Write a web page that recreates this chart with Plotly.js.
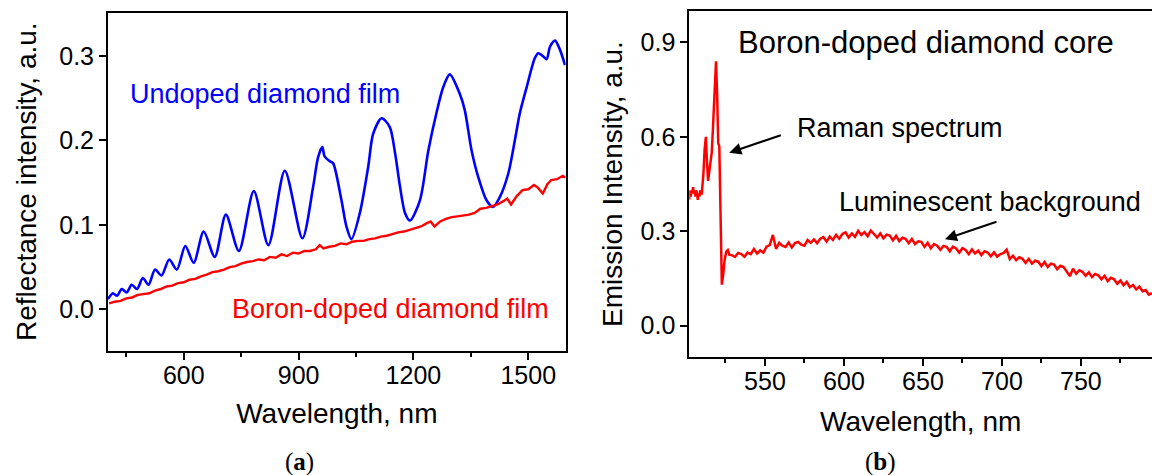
<!DOCTYPE html>
<html><head><meta charset="utf-8">
<script src="https://cdn.plot.ly/plotly-3.0.1.min.js"></script>
<style>html,body{margin:0;padding:0;background:#fff;}#chart{width:1152px;height:475px;}</style>
</head><body><div id="chart"></div>
<script>
// Panel (a): reflectance spectra
const undopedWl = [402,408,415,426,438,451,464,478,493,508,525,542,562,582,604,626,652,681,710,744,783,821,864,910,938,951,962,968,982,990,1012,1025,1038,1060,1082,1095,1117,1138,1152,1165,1178,1191,1217,1239,1260,1278,1295,1321,1334,1352,1369,1391,1408,1426,1448,1465,1478,1496,1517,1526,1537,1548,1557,1570,1583,1596];
const undopedR  = [0.012,0.016,0.019,0.016,0.024,0.020,0.029,0.024,0.037,0.029,0.047,0.040,0.059,0.047,0.075,0.055,0.092,0.062,0.112,0.069,0.140,0.076,0.164,0.084,0.145,0.180,0.192,0.181,0.175,0.173,0.129,0.098,0.083,0.114,0.169,0.208,0.226,0.216,0.185,0.145,0.114,0.105,0.129,0.188,0.232,0.263,0.278,0.255,0.236,0.188,0.157,0.129,0.121,0.133,0.161,0.200,0.232,0.263,0.297,0.303,0.300,0.296,0.311,0.318,0.307,0.289];

const borondWl = [405,420,435,450,465,480,495,510,525,540,555,570,585,600,615,630,645,660,675,690,705,720,735,750,765,780,795,810,825,840,855,870,885,900,915,930,945,955,965,980,995,1010,1025,1040,1055,1070,1085,1100,1115,1130,1145,1160,1175,1190,1205,1220,1235,1245,1255,1270,1285,1300,1315,1330,1345,1360,1375,1390,1405,1420,1435,1445,1455,1470,1485,1500,1515,1525,1538,1550,1560,1575,1590,1597];
const borondR  = [0.007,0.009,0.010,0.013,0.014,0.017,0.018,0.019,0.022,0.024,0.027,0.028,0.031,0.032,0.035,0.036,0.039,0.041,0.044,0.045,0.047,0.050,0.051,0.054,0.056,0.057,0.059,0.058,0.062,0.061,0.065,0.063,0.067,0.066,0.069,0.069,0.071,0.076,0.072,0.074,0.075,0.078,0.077,0.080,0.081,0.081,0.083,0.084,0.086,0.087,0.089,0.091,0.092,0.094,0.096,0.098,0.102,0.104,0.098,0.104,0.107,0.109,0.110,0.111,0.112,0.114,0.119,0.120,0.122,0.124,0.128,0.131,0.124,0.134,0.141,0.142,0.147,0.144,0.137,0.148,0.153,0.154,0.158,0.156];

// Panel (b): emission spectrum of boron-doped diamond core
const coreWl = [502,502.5,503,503.5,504,504.5,505,505.5,506,506.5,507,507.5,508,508.5,509,509.5,510,511,511.8,512.6,513.3,514,514.5,515.5,516.3,517,518,519,519.7,520.4,521.1,521.6,522,522.7,523.5,524.5,525.5,526.5,527.5,
529,531,533,535,537,539,541,543,545,547,549,551,553,555,557,559,561,563,565,567,569,571,573,575,577,579,581,583,585,587,589,591,593,595,597,599,601,603,605,607,609,611,613,615,617,619,621,623,625,627,629,631,633,635,637,639,641,643,645,647,649,651,653,655,657,659,661,663,665,667,669,671,673,675,677,679,681,683,685,687,689,691,693,695,697,699,701,703,705,707,709,711,713,715,717,719,721,723,725,727,729,731,733,735,737,739,741,743,745,747,749,751,753,755,757,759,761,763,765,767,769,771,773,775,777,779,781,783,785,787,789,791,793,795];
const coreI = [0.40,0.43,0.41,0.43,0.42,0.44,0.42,0.43,0.41,0.43,0.42,0.40,0.42,0.41,0.43,0.42,0.42,0.48,0.56,0.60,0.52,0.46,0.48,0.52,0.55,0.62,0.75,0.84,0.74,0.58,0.57,0.45,0.25,0.13,0.16,0.21,0.235,0.24,0.225,
0.224,0.218,0.231,0.227,0.219,0.232,0.227,0.243,0.229,0.239,0.232,0.251,0.256,0.288,0.244,0.263,0.254,0.250,0.264,0.248,0.262,0.266,0.257,0.254,0.272,0.263,0.274,0.262,0.276,0.281,0.267,0.283,0.272,0.288,0.276,0.291,0.296,0.280,0.293,0.282,0.301,0.288,0.297,0.284,0.302,0.291,0.280,0.293,0.277,0.289,0.286,0.271,0.285,0.268,0.279,0.276,0.262,0.275,0.259,0.268,0.266,0.250,0.263,0.246,0.259,0.254,0.241,0.253,0.250,0.236,0.251,0.245,0.232,0.246,0.240,0.227,0.242,0.229,0.238,0.224,0.236,0.232,0.220,0.233,0.219,0.227,0.230,0.241,0.211,0.222,0.208,0.217,0.212,0.199,0.212,0.197,0.206,0.203,0.189,0.202,0.186,0.197,0.194,0.179,0.190,0.186,0.172,0.157,0.181,0.165,0.176,0.171,0.158,0.169,0.154,0.164,0.160,0.147,0.158,0.141,0.152,0.147,0.133,0.143,0.128,0.139,0.122,0.129,0.115,0.124,0.109,0.113,0.098,0.103];

const FONT = 'Liberation Sans, Arial, Helvetica, sans-serif';
const SERIF = 'Liberation Serif, Times New Roman, serif';

const traces = [
  {x: undopedWl, y: undopedR, type: 'scatter', mode: 'lines', name: 'Undoped diamond film',
   line: {color: '#0000ff', width: 2.6, shape: 'spline', smoothing: 0.8}, xaxis: 'x', yaxis: 'y'},
  {x: borondWl, y: borondR, type: 'scatter', mode: 'lines', name: 'Boron-doped diamond film',
   line: {color: '#ff0000', width: 2.4}, xaxis: 'x', yaxis: 'y'},
  {x: coreWl, y: coreI, type: 'scatter', mode: 'lines', name: 'Boron-doped diamond core',
   line: {color: '#ff0000', width: 2.5}, xaxis: 'x2', yaxis: 'y2'}
];

const axBase = {
  showline: true, linecolor: '#000', linewidth: 2, mirror: true,
  ticks: 'outside', ticklen: 7, tickwidth: 2, tickcolor: '#000',
  showgrid: false, zeroline: false,
  tickfont: {family: FONT, size: 25, color: '#000'}
};

const layout = {
  width: 1152, height: 475,
  margin: {l: 108, r: 0, t: 11, b: 118},
  paper_bgcolor: '#fff', plot_bgcolor: '#fff',
  showlegend: false,
  font: {family: FONT, color: '#000'},
  xaxis: Object.assign({}, axBase, {
    domain: [0, 0.4384], range: [402.1, 1597.8], tick0: 0, dtick: 300, ticklabelstandoff: -6,
    minor: {dtick: 150, ticklen: 4, tickwidth: 2, tickcolor: '#000', ticks: 'outside', showgrid: false},
    title: {text: 'Wavelength, nm', font: {family: FONT, size: 28, color: '#000'}, standoff: 16},
    anchor: 'y'
  }),
  yaxis: Object.assign({}, axBase, {
    domain: [0.0182, 0.9951], range: [-0.049, 0.351], tick0: 0, dtick: 0.1, tickformat: '.1f',
    title: {text: 'Reflectance intensity, a.u.', font: {family: FONT, size: 28, color: '#000'}, standoff: 14},
    anchor: 'x'
  }),
  xaxis2: Object.assign({}, axBase, {
    domain: [0.5568, 1], range: [502.1, 795], tick0: 0, dtick: 50, ticklabelstandoff: -6,
    minor: {dtick: 25, ticklen: 4, tickwidth: 2, tickcolor: '#000', ticks: 'outside', showgrid: false},
    title: {text: 'Wavelength, nm', font: {family: FONT, size: 28, color: '#000'}, standoff: 17},
    anchor: 'y2'
  }),
  yaxis2: Object.assign({}, axBase, {
    domain: [0, 1], range: [-0.1, 1.0], tick0: 0, dtick: 0.3, tickformat: '.1f', mirror: false,
    title: {text: 'Emission Intensity, a.u.', font: {family: FONT, size: 28, color: '#000'}, standoff: 10},
    anchor: 'x2'
  }),
  annotations: [
    {xref: 'x', yref: 'y', x: 455, y: 0.255, xanchor: 'left', yanchor: 'middle', showarrow: false,
     text: 'Undoped diamond film', font: {family: FONT, size: 27, color: '#0000ff'}},
    {xref: 'x', yref: 'y', x: 722, y: 0.0, xanchor: 'left', yanchor: 'middle', showarrow: false,
     text: 'Boron-doped diamond film', font: {family: FONT, size: 27, color: '#ff0000'}},
    {xref: 'x2', yref: 'y2', x: 652, y: 0.90, xanchor: 'center', yanchor: 'middle', showarrow: false,
     text: 'Boron-doped diamond core', font: {family: FONT, size: 31, color: '#000'}},
    {xref: 'x2', yref: 'y2', x: 569, y: 0.628, xanchor: 'left', yanchor: 'middle', showarrow: false,
     text: 'Raman spectrum', font: {family: FONT, size: 27, color: '#000'}},
    {xref: 'x2', yref: 'y2', x: 595.4, y: 0.393, xanchor: 'left', yanchor: 'middle', showarrow: false,
     text: 'Luminescent background', font: {family: FONT, size: 27, color: '#000'}},
    {xref: 'paper', yref: 'paper', x: 0.5951, y: 0.5905, text: '', showarrow: true,
     arrowhead: 2, arrowsize: 1.2, arrowwidth: 2, arrowcolor: '#000', ax: 53, ay: -18, standoff: 0},
    {xref: 'paper', yref: 'paper', x: 0.8017, y: 0.3402, text: '', showarrow: true,
     arrowhead: 2, arrowsize: 1.2, arrowwidth: 2, arrowcolor: '#000', ax: 53, ay: -18, standoff: 0},
    {xref: 'paper', yref: 'paper', x: 0.1839, y: -0.3035, xanchor: 'center', yanchor: 'middle', showarrow: false,
     text: '(<b>a</b>)', font: {family: SERIF, size: 25, color: '#000'}},
    {xref: 'paper', yref: 'paper', x: 0.7404, y: -0.3035, xanchor: 'center', yanchor: 'middle', showarrow: false,
     text: '(<b>b</b>)', font: {family: SERIF, size: 25, color: '#000'}}
  ]
};

Plotly.newPlot('chart', traces, layout, {staticPlot: true, displayModeBar: false});
</script>
</body></html>
